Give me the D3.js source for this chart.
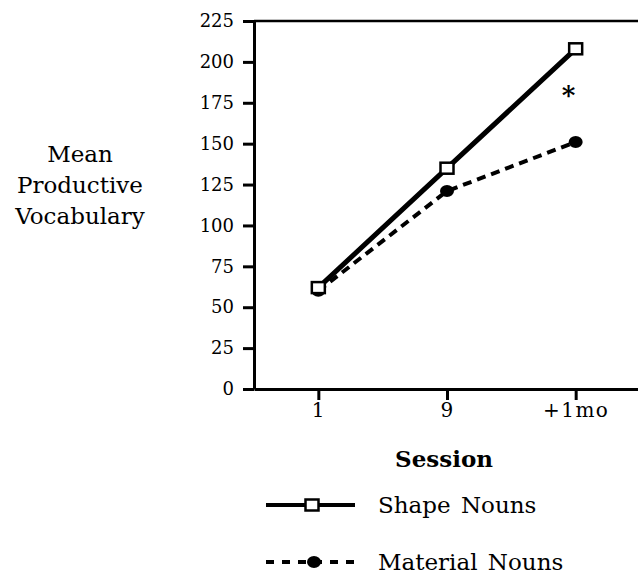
<!DOCTYPE html>
<html>
<head>
<meta charset="utf-8">
<script src="https://cdn.jsdelivr.net/npm/d3@7"></script>
<style>
  body { margin: 0; background: #fff; }
  svg { display: block; font-family: "DejaVu Serif", serif; }
</style>
</head>
<body>
<div id="chart"></div>
<script>
// Chart values
var sessions = ['1', '9', '+1mo'];
var shapeNouns = [62, 135, 208];
var materialNouns = [60, 121, 151];
var yTicks = [0, 25, 50, 75, 100, 125, 150, 175, 200, 225];
var seriesNames = ['Shape Nouns', 'Material Nouns'];
var yTitle = ['Mean', 'Productive', 'Vocabulary'];
var starSession = '+1mo', starValue = 183;

var width = 638, height = 577;

var svg = d3.select('#chart')
            .append('svg')
            .attr('width', width)
            .attr('height', height);

// scales
var x = d3.scalePoint()
          .domain(sessions)
          .range([254, 640])
          .padding(0.5);

var y = d3.scaleLinear()
          .domain([0, 225])
          .range([389, 21]);

// top frame line
svg.append('line')
   .attr('x1', 254).attr('x2', 640)
   .attr('y1', y(225)).attr('y2', y(225))
   .attr('stroke', '#000')
   .attr('stroke-width', 2.5);

// y axis
var yAxis = d3.axisLeft(y)
              .tickValues(yTicks)
              .tickSizeInner(11)
              .tickSizeOuter(0)
              .tickPadding(9);

var gy = svg.append('g')
            .attr('transform', 'translate(254,0)')
            .call(yAxis)
            .attr('font-family', 'DejaVu Serif, serif');
gy.select('.domain').attr('stroke-width', 3);
gy.selectAll('.tick line').attr('stroke-width', 3);
gy.selectAll('.tick text')
  .attr('font-size', 18)
  .attr('fill', '#000');

// x axis
var xAxis = d3.axisBottom(x)
              .tickSizeInner(11)
              .tickSizeOuter(0)
              .tickPadding(3);

var gx = svg.append('g')
            .attr('transform', 'translate(0,' + y(0) + ')')
            .call(xAxis)
            .attr('font-family', 'DejaVu Serif, serif');
gx.select('.domain').attr('stroke-width', 3);
gx.selectAll('.tick line').attr('stroke-width', 3);
gx.selectAll('.tick text')
  .attr('font-size', 20)
  .attr('letter-spacing', 1.5)
  .attr('fill', '#000');

// lines
var line = d3.line()
             .x(function(d, i) { return x(sessions[i]); })
             .y(function(d) { return y(d); });

svg.append('path')
   .datum(materialNouns)
   .attr('d', line)
   .attr('fill', 'none')
   .attr('stroke', '#000')
   .attr('stroke-width', 4)
   .attr('stroke-dasharray', '9,6');

svg.append('path')
   .datum(shapeNouns)
   .attr('d', line)
   .attr('fill', 'none')
   .attr('stroke', '#000')
   .attr('stroke-width', 5);

// markers
svg.selectAll('.mat-dot')
   .data(materialNouns)
   .enter()
   .append('ellipse')
   .attr('class', 'mat-dot')
   .attr('cx', function(d, i) { return x(sessions[i]); })
   .attr('cy', function(d) { return y(d); })
   .attr('rx', 7)
   .attr('ry', 6)
   .attr('fill', '#000');

svg.selectAll('.shape-box')
   .data(shapeNouns)
   .enter()
   .append('rect')
   .attr('class', 'shape-box')
   .attr('x', function(d, i) { return x(sessions[i]) - 6.5; })
   .attr('y', function(d) { return y(d) - 5.5; })
   .attr('width', 13)
   .attr('height', 11)
   .attr('fill', '#fff')
   .attr('stroke', '#000')
   .attr('stroke-width', 2.5);

// significance asterisk
svg.append('text')
   .attr('x', x(starSession) - 7)
   .attr('y', y(starValue) + 14)
   .attr('text-anchor', 'middle')
   .attr('font-size', 26)
   .attr('font-weight', 'bold')
   .text('*');

// axis titles
svg.append('text')
   .attr('x', 444)
   .attr('y', 467)
   .attr('text-anchor', 'middle')
   .attr('font-size', 23)
   .attr('font-weight', 'bold')
   .text('Session');

svg.append('g')
   .selectAll('text')
   .data(yTitle)
   .enter()
   .append('text')
   .attr('x', 80)
   .attr('y', function(d, i) { return 162 + i * 31; })
   .attr('text-anchor', 'middle')
   .attr('font-size', 23)
   .text(function(d) { return d; });

// legend
var legend = svg.append('g');
var legendY = [505, 562];

legend.append('line')
      .attr('x1', 266).attr('x2', 355)
      .attr('y1', legendY[0]).attr('y2', legendY[0])
      .attr('stroke', '#000')
      .attr('stroke-width', 4);
legend.append('rect')
      .attr('x', 312 - 6.5).attr('y', legendY[0] - 5.5)
      .attr('width', 13).attr('height', 11)
      .attr('fill', '#fff')
      .attr('stroke', '#000')
      .attr('stroke-width', 2.5);

legend.append('line')
      .attr('x1', 266).attr('x2', 355)
      .attr('y1', legendY[1]).attr('y2', legendY[1])
      .attr('stroke', '#000')
      .attr('stroke-width', 4)
      .attr('stroke-dasharray', '8,8');
legend.append('ellipse')
      .attr('cx', 314).attr('cy', legendY[1])
      .attr('rx', 7).attr('ry', 6)
      .attr('fill', '#000');

legend.selectAll('.legend-label')
      .data(seriesNames)
      .enter()
      .append('text')
      .attr('class', 'legend-label')
      .attr('x', 378)
      .attr('y', function(d, i) { return legendY[i] + 8; })
      .attr('font-size', 23)
      .attr('word-spacing', 3)
      .text(function(d) { return d; });
</script>
</body>
</html>
